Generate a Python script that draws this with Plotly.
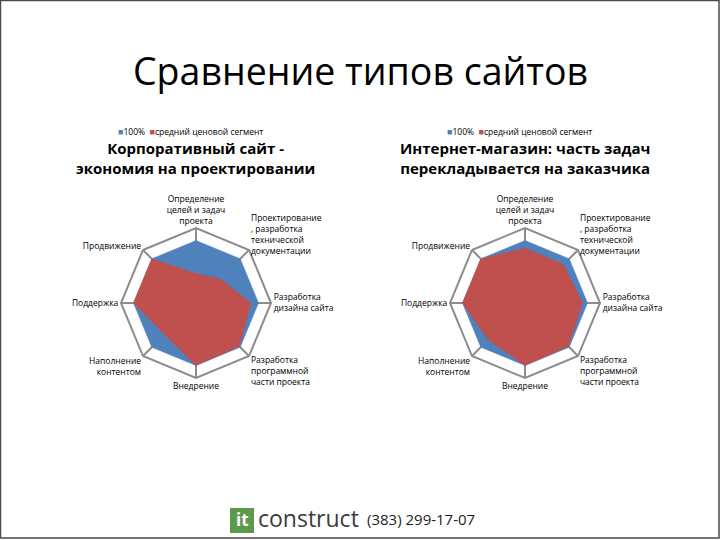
import plotly.graph_objects as go

# ---------------- data ----------------
categories = [
    "Определение<br>целей и задач<br>проекта",
    "Проектирование<br>, разработка<br>технической<br>документации",
    "Разработка<br>дизайна сайта",
    "Разработка<br>программной<br>части проекта",
    "Внедрение",
    "Наполнение<br>контентом",
    "Поддержка",
    "Продвижение",
]
series_names = ["100%", "средний ценовой сегмент"]
series_colors = ["#4F81BD", "#C0504D"]

corp_full = [1.0, 1.0, 1.0, 1.0, 1.0, 1.0, 1.0, 1.0]
corp_mid = [0.47, 0.55, 0.88, 0.98, 1.0, 0.71, 1.0, 1.0]

shop_full = [1.0, 1.0, 1.0, 1.0, 1.0, 1.0, 1.0, 1.0]
shop_mid = [0.88, 0.87, 0.92, 0.98, 1.0, 0.83, 1.0, 1.0]

main_title = "Сравнение типов сайтов"
chart_titles = [
    "Корпоративный сайт -<br>экономия на проектировании",
    "Интернет-магазин: часть задач<br>перекладывается на заказчика",
]
phone = "(383) 299-17-07"

FONT = "Open Sans"
W, H = 720, 540

fig = go.Figure()


def closed(v):
    return list(v) + [v[0]]


for sub, data in (("polar", [corp_full, corp_mid]), ("polar2", [shop_full, shop_mid])):
    for name, color, vals in zip(series_names, series_colors, data):
        fig.add_trace(go.Scatterpolar(
            r=closed(vals), theta=closed(categories), name=name,
            mode="lines", fill="toself", fillcolor=color,
            line=dict(color=color, width=0.5), subplot=sub,
            showlegend=False, hoverinfo="skip",
        ))


def polar_layout(cx, cy, rad):
    return dict(
        domain=dict(x=[(cx - rad) / W, (cx + rad) / W],
                    y=[1 - (cy + rad) / H, 1 - (cy - rad) / H]),
        bgcolor="rgba(0,0,0,0)",
        gridshape="linear",
        radialaxis=dict(range=[0, 1.2], showticklabels=False, showgrid=False,
                        showline=False, ticks=""),
        angularaxis=dict(rotation=90, direction="clockwise", showgrid=True,
                         gridcolor="#8c8c8c", gridwidth=1.5, showline=True,
                         linecolor="#8c8c8c", linewidth=2, ticks="",
                         layer="above traces",
                         tickfont=dict(family=FONT, size=8.5, color="#000")),
    )


def ann(text, x, y, size, color="#000", xanchor="center", family=FONT):
    return dict(text=text, x=x / W, y=1 - y / H, xref="paper", yref="paper",
                xanchor=xanchor, yanchor="middle", showarrow=False,
                font=dict(family=family, size=size, color=color))


annotations = [ann(main_title, 360, 70, 37.5)]
for cx, t in ((196, chart_titles[0]), (525, chart_titles[1])):
    annotations.append(ann("<b>" + t + "</b>", cx, 158, 15))
    leg = "".join(
        f"<span style='color:{c};font-size:9px'>■</span>{n}  "
        for n, c in zip(series_names, series_colors)
    )
    annotations.append(ann(leg.strip(), cx - 80, 131, 8.5, xanchor="left"))

# footer logo
annotations += [
    ann("<b>it</b>", 242, 519, 17, color="#ffffff"),
    ann("construct", 256, 518, 23, color="#3c3c3c", xanchor="left"),
    ann(phone, 365, 519, 15, color="#222", xanchor="left"),
]

shapes = [
    dict(type="rect", xref="paper", yref="paper", x0=230 / W, x1=254 / W,
         y0=1 - 533 / H, y1=1 - 508 / H, fillcolor="#5b9a4a", line=dict(width=0),
         layer="below"),
    dict(type="rect", xref="paper", yref="paper", x0=0.5 / W, x1=1 - 1 / W,
         y0=2 / H, y1=1 - 0.5 / H, line=dict(color="#4a4a4a", width=1.5),
         fillcolor="rgba(0,0,0,0)"),
]

fig.update_layout(
    width=W, height=H,
    margin=dict(l=0, r=0, t=0, b=0),
    paper_bgcolor="white",
    polar=polar_layout(196, 303, 75),
    polar2=polar_layout(525, 303, 75),
    annotations=annotations,
    shapes=shapes,
    showlegend=False,
)

fig.write_html(
    "out.html",
    config={"displayModeBar": False},
    post_script="document.body.style.margin='0';document.body.style.overflow='hidden';",
)
